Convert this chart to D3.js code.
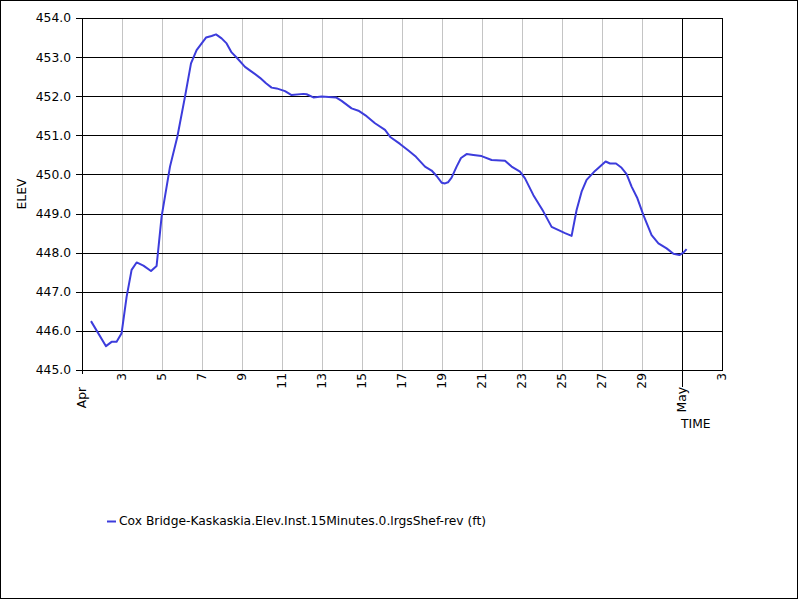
<!DOCTYPE html>
<html>
<head>
<meta charset="utf-8">
<script src="https://cdn.jsdelivr.net/npm/d3@7"></script>
<style>
  body { margin: 0; background: #fff; }
  svg { display: block; font-family: "DejaVu Sans", sans-serif; }
</style>
</head>
<body>
<div id="chart"></div>
<script>
// day of April (fractional, 1 = Apr 1 00:00) and elevation in ft
const days = [1.45, 2.2, 2.48, 2.73, 2.98, 3.23, 3.48, 3.73, 4.07, 4.45, 4.73, 4.98,
  5.4, 5.77, 6.15, 6.45, 6.73, 7.2, 7.48, 7.7, 7.98, 8.23, 8.48, 8.73, 9.15, 9.48,
  9.9, 10.2, 10.48, 10.73, 11.15, 11.48, 12.07, 12.23, 12.57, 12.98, 13.7, 13.98,
  14.48, 14.82, 15.23, 15.65, 16.15, 16.43, 16.9, 17.32, 17.7, 18.15, 18.48, 18.73,
  18.98, 19.15, 19.3, 19.48, 19.73, 19.95, 20.23, 20.57, 20.98, 21.48, 22.15, 22.48,
  22.9, 23.15, 23.57, 24.07, 24.48, 25.15, 25.48, 25.73, 25.98, 26.23, 26.65, 27.18,
  27.4, 27.7, 27.98, 28.23, 28.48, 28.77, 29.07, 29.48, 29.82, 30.23, 30.57, 30.87,
  31.07, 31.23];
const elev = [446.25, 445.61, 445.72, 445.72, 445.94, 446.87, 447.56, 447.75, 447.67, 447.53, 447.66, 448.92,
  450.2, 450.97, 451.99, 452.84, 453.18, 453.5, 453.54, 453.58, 453.48, 453.35, 453.12, 452.99, 452.75, 452.63,
  452.47, 452.33, 452.22, 452.2, 452.13, 452.03, 452.06, 452.05, 451.97, 451.99, 451.97, 451.88,
  451.69, 451.63, 451.49, 451.31, 451.14, 450.95, 450.78, 450.61, 450.45, 450.2, 450.1, 449.96,
  449.79, 449.77, 449.8, 449.92, 450.2, 450.42, 450.52, 450.5, 450.47, 450.37, 450.35, 450.2,
  450.07, 449.9, 449.47, 449.05, 448.66, 448.5, 448.43, 449.09, 449.56, 449.86, 450.09, 450.33,
  450.28, 450.28, 450.17, 450.01, 449.69, 449.39, 448.96, 448.45, 448.24, 448.11, 447.97, 447.94,
  448.0, 448.09];

const yTicks = [445, 446, 447, 448, 449, 450, 451, 452, 453, 454];
const dayTicks = [3, 5, 7, 9, 11, 13, 15, 17, 19, 21, 23, 25, 27, 29];
const monthTicks = [{ label: "Apr", month: 3, day: 1 }, { label: "May", month: 4, day: 1 }];
const seriesName = "Cox Bridge-Kaskaskia.Elev.Inst.15Minutes.0.lrgsShef-rev (ft)";

const W = 800, H = 600;
const margin = { top: 18, right: 78, bottom: 230, left: 82 };
const width = W - margin.left - margin.right;
const height = H - margin.top - margin.bottom;
const lineColor = "#3c3cdc";
const fs = "12.3px";

const toDate = d => new Date(2023, 3, 1, 0, 0).getTime() + (d - 1) * 86400000;

const svgRoot = d3.select("#chart").append("svg")
  .attr("width", W)
  .attr("height", H);

svgRoot.append("rect")
  .attr("x", 0.5).attr("y", 0.5)
  .attr("width", W - 3).attr("height", H - 2)
  .attr("fill", "white")
  .attr("stroke", "black");

const svg = svgRoot.append("g")
  .attr("transform", `translate(${margin.left},${margin.top})`);

const x = d3.scaleTime()
  .domain([new Date(2023, 3, 1), new Date(2023, 4, 3)])
  .range([0, width]);

const y = d3.scaleLinear()
  .domain([445, 454])
  .range([height, 0]);

// vertical gray gridlines on odd days
svg.selectAll(".vgrid")
  .data(dayTicks)
  .enter().append("line")
  .attr("x1", d => x(new Date(2023, 3, d)) + 0.5)
  .attr("x2", d => x(new Date(2023, 3, d)) + 0.5)
  .attr("y1", 0)
  .attr("y2", height)
  .attr("stroke", "#c4c4c4")
  .attr("stroke-width", 1);

// horizontal gridlines + y ticks
svg.selectAll(".hgrid")
  .data(yTicks)
  .enter().append("line")
  .attr("x1", -6)
  .attr("x2", width)
  .attr("y1", d => Math.round(y(d)) + 0.5)
  .attr("y2", d => Math.round(y(d)) + 0.5)
  .attr("stroke", "black")
  .attr("stroke-width", 1);

svg.selectAll(".ylab")
  .data(yTicks)
  .enter().append("text")
  .attr("x", -11)
  .attr("y", d => y(d))
  .attr("dy", "0.36em")
  .attr("text-anchor", "end")
  .style("font-size", fs)
  .text(d => d.toFixed(1));

// month boundary lines
const mayX = x(new Date(2023, 4, 1));
svg.append("line")
  .attr("x1", mayX + 0.5).attr("x2", mayX + 0.5)
  .attr("y1", 0).attr("y2", height + 17)
  .attr("stroke", "black");
svg.append("line")
  .attr("x1", 0.5).attr("x2", 0.5)
  .attr("y1", height).attr("y2", height + 4)
  .attr("stroke", "black");

// plot frame
svg.append("rect")
  .attr("x", 0.5).attr("y", 0.5)
  .attr("width", width).attr("height", height)
  .attr("fill", "none")
  .attr("stroke", "black");

// day labels (rotated)
const dayLabelDates = dayTicks.map(d => new Date(2023, 3, d)).concat([new Date(2023, 4, 3)]);
svg.selectAll(".xlab")
  .data(dayLabelDates)
  .enter().append("text")
  .attr("transform", d => `translate(${x(d) + 4},${height + 3}) rotate(-90)`)
  .attr("text-anchor", "end")
  .style("font-size", fs)
  .text(d => d.getDate());

svg.selectAll(".mlab")
  .data(monthTicks)
  .enter().append("text")
  .attr("transform", d => `translate(${x(new Date(2023, d.month, d.day)) + 4},${height + 17}) rotate(-90)`)
  .attr("text-anchor", "end")
  .style("font-size", fs)
  .text(d => d.label);

// axis titles
svg.append("text")
  .attr("transform", `translate(${-56},${176}) rotate(-90)`)
  .attr("text-anchor", "middle")
  .style("font-size", fs)
  .text("ELEV");

svg.append("text")
  .attr("x", mayX - 1)
  .attr("y", height + 58)
  .style("font-size", fs)
  .text("TIME");

// data line
const pts = days.map((d, i) => [toDate(d), elev[i]]);
const line = d3.line()
  .x(d => x(d[0]))
  .y(d => y(d[1]));

svg.append("path")
  .datum(pts)
  .attr("d", line)
  .attr("fill", "none")
  .attr("stroke", lineColor)
  .attr("stroke-width", 2)
  .attr("stroke-linejoin", "round");

// legend
const legend = svgRoot.append("g").attr("transform", "translate(107,521)");
legend.append("line")
  .attr("x1", 0).attr("x2", 9)
  .attr("y1", 0.5).attr("y2", 0.5)
  .attr("stroke", lineColor)
  .attr("stroke-width", 2);
legend.append("text")
  .attr("x", 12)
  .attr("y", 0)
  .attr("dy", "0.36em")
  .style("font-size", fs)
  .text(seriesName);
</script>
</body>
</html>
